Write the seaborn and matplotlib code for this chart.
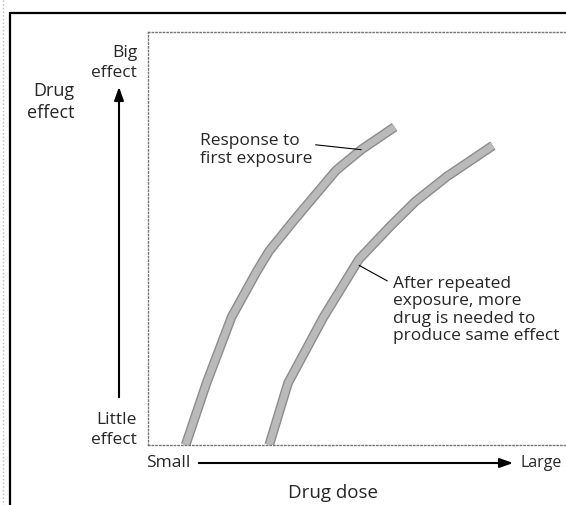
import matplotlib
matplotlib.use("Agg")
import matplotlib.pyplot as plt
from matplotlib.lines import Line2D
from matplotlib.patches import FancyArrowPatch
import matplotlib.patheffects as pe
import seaborn as sns

# values (dose and effect in arbitrary 0-100 units)
dose_first = [9, 14, 20, 26, 29, 35, 45, 51, 59]
effect_first = [0, 15, 31, 42, 47, 54.5, 66.5, 71.5, 77]
dose_repeat = [29, 33.5, 42, 50.5, 58, 64, 71.5, 82.5]
effect_repeat = [0, 15, 31, 45, 53, 59, 65, 72.5]

W, H = 566, 505

sns.set_style("white")
plt.rcParams["font.family"] = ["Open Sans", "DejaVu Sans"]


def px(x, y):
    """pixel position -> figure fraction"""
    return x / W, 1 - y / H


fig = plt.figure(figsize=(W / 100, H / 100), dpi=100)
ax = fig.add_axes([148 / W, 1 - 445 / H, (W - 148) / W, (445 - 32) / H])

curve_fx = [pe.Stroke(linewidth=7, foreground="#8c8c8c"), pe.Normal()]
for xs, ys in [(dose_first, effect_first), (dose_repeat, effect_repeat)]:
    sns.lineplot(x=xs, y=ys, sort=False, estimator=None, ax=ax,
                 color="#bababa", linewidth=5, solid_capstyle="butt",
                 solid_joinstyle="round", path_effects=curve_fx)

ax.set_xlim(0, 100)
ax.set_ylim(0, 100)
ax.set_xticks([])
ax.set_yticks([])
ax.set_xlabel("")
ax.set_ylabel("")
ax.spines["right"].set_visible(False)
for side in ["left", "top", "bottom"]:
    ax.spines[side].set_linestyle(":")
    ax.spines[side].set_color("#777777")
    ax.spines[side].set_linewidth(1)

# outer frame of the book figure
fig.add_artist(Line2D([px(10, 0)[0], 1], [px(0, 13)[1]] * 2, color="black", lw=1.6))
fig.add_artist(Line2D([px(10, 0)[0]] * 2, [px(0, 13)[1], 0], color="black", lw=1.6))
fig.add_artist(Line2D([px(3, 0)[0]] * 2, [1, 0], color="#bbbbbb", lw=1, ls=":"))

# axis arrows
fig.add_artist(FancyArrowPatch(px(119, 400), px(119, 84), transform=fig.transFigure,
                               arrowstyle="-|>,head_length=8,head_width=2.8",
                               color="black", lw=1.5))
fig.add_artist(FancyArrowPatch(px(196, 463), px(516, 463), transform=fig.transFigure,
                               arrowstyle="-|>,head_length=8,head_width=2.8",
                               color="black", lw=1.5))

fs = 12.5
fig.text(*px(137, 63), "Big\neffect", ha="right", va="center", fontsize=fs, linespacing=1.3)
fig.text(*px(74, 102), "Drug\neffect", ha="right", va="center", fontsize=13, linespacing=1.3)
fig.text(*px(137, 430), "Little\neffect", ha="right", va="center", fontsize=fs, linespacing=1.3)
fig.text(*px(146, 463), "Small", ha="left", va="center", fontsize=fs)
fig.text(*px(520, 463), "Large", ha="left", va="center", fontsize=11.5)
fig.text(*px(333, 493), "Drug dose", ha="center", va="center", fontsize=13.5)

ax.annotate("Response to\nfirst exposure", xy=(dose_first[7], effect_first[7]),
            xytext=px(200, 150), textcoords="figure fraction", ha="left", va="center",
            fontsize=fs, linespacing=1.12,
            arrowprops=dict(arrowstyle="-", color="black", lw=0.8,
                            relpos=(0.85, 0.72), shrinkA=0, shrinkB=0))
ax.annotate("After repeated\nexposure, more\ndrug is needed to\nproduce same effect",
            xy=(dose_repeat[3], effect_repeat[3] - 1.5),
            xytext=px(393, 310), textcoords="figure fraction", ha="left", va="center",
            fontsize=fs, linespacing=1.12,
            arrowprops=dict(arrowstyle="-", color="black", lw=0.8,
                            relpos=(0.0, 0.88), shrinkA=2, shrinkB=0))

fig.savefig("out.png", dpi=100)
